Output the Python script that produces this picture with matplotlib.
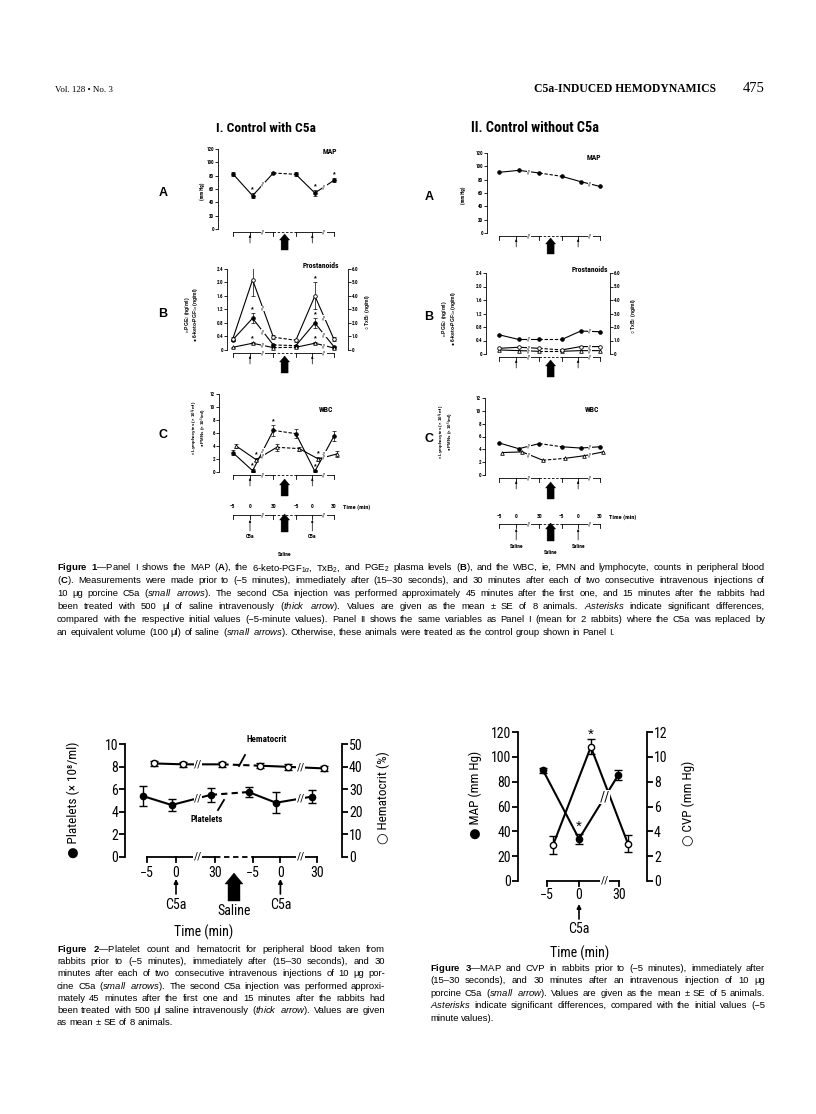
import matplotlib
matplotlib.use("Agg")
import matplotlib.pyplot as plt
import numpy as np
from matplotlib import font_manager
from matplotlib.patches import Polygon
from matplotlib.lines import Line2D

W, H = 816, 1114

SANS = "Liberation Sans"
SERIF = "Liberation Serif"


def find_condensed():
    fonts = font_manager.fontManager.ttflist
    for name in ("Liberation Sans Narrow", "Roboto Condensed", "Open Sans Condensed",
                 "Noto Sans Condensed", "DejaVu Sans Condensed", "Arial Narrow"):
        if any(f.name == name for f in fonts):
            return dict(fontfamily=[name, "DejaVu Sans"]), True
    for name in ("DejaVu Sans", "Noto Sans", "Open Sans", "Roboto"):
        for f in fonts:
            if f.name == name and str(f.stretch) in ("condensed", "semi-condensed",
                                                     "extra-condensed"):
                return dict(fontfamily=[name, "DejaVu Sans"], fontstretch=str(f.stretch)), True
    return dict(fontfamily=[SANS, "DejaVu Sans"]), False


NK, HAVE_NARROW = find_condensed()
SC = 1.0 if HAVE_NARROW else 0.9      # shrink a little when no condensed face exists

plt.rcParams["font.family"] = [SANS, "DejaVu Sans"]
plt.rcParams["mathtext.fontset"] = "custom"
plt.rcParams["mathtext.rm"] = SANS
plt.rcParams["mathtext.it"] = SANS + ":italic"
plt.rcParams["mathtext.bf"] = SANS + ":bold"

# ---------------- data ----------------
TIME_LABELS = ["\u22125", "0", "30", "\u22125", "0", "30"]

# Figure 1, Panel I: control with C5a (mean +- SE, n = 8)
I_MAP = [83, 50, 84, 82, 54, 73]
I_MAP_SE = [3, 4, 2, 3, 4, 3]
I_MAP_SIG = [0, 1, 0, 0, 1, 1]

I_TXB2 = [0.8, 5.2, 0.95, 0.72, 4.0, 0.8]          # ng/ml, right axis
I_TXB2_SE = [0.15, 1.2, 0.15, 0.12, 1.0, 0.15]
I_TXB2_SIG = [0, 1, 0, 0, 1, 0]
I_KETO = [0.3, 0.94, 0.15, 0.13, 0.8, 0.1]          # ng/ml, left axis
I_KETO_SE = [0.04, 0.15, 0.03, 0.03, 0.15, 0.03]
I_KETO_SIG = [0, 1, 0, 0, 1, 0]
I_PGE2 = [0.08, 0.2, 0.07, 0.08, 0.2, 0.06]
I_PGE2_SE = [0.02, 0.03, 0.02, 0.02, 0.03, 0.02]
I_PGE2_SIG = [0, 1, 0, 0, 1, 0]

I_PMN = [3.0, 0.2, 6.4, 5.9, 0.1, 5.5]
I_PMN_SE = [0.4, 0.2, 0.8, 0.7, 0.2, 0.8]
I_PMN_SIG = [0, 1, 1, 0, 1, 0]
I_LYM = [4.0, 1.9, 3.8, 3.6, 2.0, 2.8]
I_LYM_SE = [0.3, 0.2, 0.5, 0.3, 0.3, 0.5]
I_LYM_SIG = [0, 1, 0, 0, 1, 0]

# Figure 1, Panel II: control without C5a (mean of 2 rabbits)
II_MAP = [91, 94, 90, 85, 77, 70]
II_KETO = [0.57, 0.43, 0.43, 0.43, 0.68, 0.66]
II_TXB2 = [0.42, 0.5, 0.42, 0.3, 0.55, 0.55]
II_PGE2 = [0.12, 0.1, 0.08, 0.08, 0.1, 0.1]
II_PMN = [5.0, 4.1, 4.9, 4.4, 4.2, 4.4]
II_LYM = [3.5, 3.6, 2.3, 2.6, 3.0, 3.6]

# Figure 2
PLATELETS = [5.4, 4.6, 5.5, 5.75, 4.8, 5.35]
PLATELETS_SE = [0.9, 0.55, 0.6, 0.45, 0.95, 0.6]
HEMATOCRIT = [41.4, 41.0, 41.0, 40.4, 39.9, 39.2]
HEMATOCRIT_SE = [1.2, 1.2, 1.2, 1.2, 1.2, 1.2]

# Figure 3
F3_TIME_LABELS = ["\u22125", "0", "30"]
F3_MAP = [89, 34, 85]
F3_MAP_SE = [2, 4, 4]
F3_CVP = [2.9, 10.8, 3.0]
F3_CVP_SE = [0.7, 0.6, 0.7]
F3_SIG = [0, 1, 0]

# ---------------- layout ----------------
POS = np.array([0, 1, 2.35, 3.65, 4.6, 5.85])     # time slots on the broken axis
BRK = [1.75, 5.3]
SHIFT = np.array([0, 0.15, 0, 0, 0.15, 0])
POS3 = np.array([0, 1, 2.25])
BRK3 = 1.8

SMALL = dict(lw=0.8, ms=2.6, mew=0.6, cap=1.2, elw=0.5, brk=4, star=5, dash=(3, 1.6))
BIG = dict(lw=1.5, ms=4.5, mew=1.0, cap=3, elw=1.0, brk=8, star=11, dash=(3, 2))

fig = plt.figure(figsize=(W / 100, H / 100), dpi=100)


def ftext(x, y, s, **kw):
    return fig.text(x / W, 1 - y / H, s, **kw)


def fline(xs, ys, **kw):
    fig.add_artist(Line2D([x / W for x in xs], [1 - y / H for y in ys],
                          transform=fig.transFigure, color="k", **kw))


def px_axes(l, t, r, b, origin, unit, ylim):
    ax = fig.add_axes([l / W, 1 - b / H, (r - l) / W, (b - t) / H])
    ax.set_xlim((l - origin) / unit, (r - origin) / unit)
    ax.set_ylim(*ylim)
    ax.box_px = (l, t, r, b)
    ax.unit = unit
    ax.patch.set_visible(False)
    for s in ("top", "right", "bottom"):
        ax.spines[s].set_visible(False)
    ax.set_xticks([])
    return ax


def twin(ax, ylim):
    a2 = ax.twinx()
    a2.set_ylim(*ylim)
    for s in ("top", "left", "bottom"):
        a2.spines[s].set_visible(False)
    a2.patch.set_visible(False)
    a2.box_px = ax.box_px
    a2.unit = ax.unit
    return a2


def ty(ax, py):
    l, t, r, b = ax.box_px
    return (b - py) / (b - t)


def style_y(ax, ticks, labels, fs, lw, length, weight="bold"):
    ax.set_yticks(ticks)
    ax.set_yticklabels(labels)
    ax.tick_params(axis="y", direction="out", length=length, width=lw, labelsize=fs, pad=1)
    for lab in ax.get_yticklabels():
        lab.set_fontfamily(NK["fontfamily"])
        if "fontstretch" in NK:
            lab.set_fontstretch(NK["fontstretch"])
        lab.set_fontweight(weight)
    for s in ax.spines.values():
        s.set_linewidth(lw)


def timeline(ax, py, lw, tick_px, brk_fs, pos=POS, brk=BRK, dashed=True):
    tr = ax.get_xaxis_transform()
    y0, y1 = ty(ax, py), ty(ax, py + tick_px)
    kw = dict(color="k", lw=lw, transform=tr, clip_on=False)
    if dashed:
        ax.plot([pos[0], pos[2]], [y0, y0], **kw)
        ax.plot([pos[2], pos[3]], [y0, y0], linestyle=(0, (3, 2)), **kw)
        ax.plot([pos[3], pos[5]], [y0, y0], **kw)
    else:
        ax.plot([pos[0], pos[-1]], [y0, y0], **kw)
    for p in pos:
        ax.plot([p, p], [y0, y1], **kw)
    for b in brk:
        ax.text(b, y0, "//", transform=tr, ha="center", va="center", fontsize=brk_fs,
                bbox=dict(fc="white", ec="none", pad=0.3), **NK)


def small_arrow(ax, x, py_tip, py_tail, lw, scale):
    tr = ax.get_xaxis_transform()
    ax.annotate("", xy=(x, ty(ax, py_tip)), xytext=(x, ty(ax, py_tail)),
                xycoords=tr, textcoords=tr, annotation_clip=False,
                arrowprops=dict(arrowstyle="-|>", lw=lw, color="k", mutation_scale=scale,
                                shrinkA=0, shrinkB=0))


def thick_arrow(ax, x, py_tip, py_base, hw_px, sw_px, hl_px):
    tr = ax.get_xaxis_transform()
    hw, sw = hw_px / ax.unit, sw_px / ax.unit
    yt, yh, yb = ty(ax, py_tip), ty(ax, py_tip + hl_px), ty(ax, py_base)
    verts = [(x, yt), (x + hw, yh), (x + sw, yh), (x + sw, yb),
             (x - sw, yb), (x - sw, yh), (x - hw, yh)]
    ax.add_patch(Polygon(verts, closed=True, transform=tr, fc="k", ec="k", lw=0.3,
                         clip_on=False))


def series(ax, x, y, marker, filled, st, se=None, sig=None, breaks=BRK):
    x = np.asarray(x, float)
    y = np.asarray(y, float)
    kw = dict(color="k", lw=st["lw"], solid_capstyle="butt", zorder=2)
    ax.plot(x[:3], y[:3], "-", **kw)
    ax.plot(x[2:4], y[2:4], linestyle=(0, st["dash"]), **kw)
    ax.plot(x[3:], y[3:], "-", **kw)
    if se is not None:
        ax.errorbar(x, y, yerr=se, fmt="none", ecolor="k", elinewidth=st["elw"],
                    capsize=st["cap"], capthick=st["elw"], zorder=3)
    ax.plot(x, y, linestyle="none", marker=marker, ms=st["ms"], mew=st["mew"],
            mfc="k" if filled else "white", mec="k", zorder=4)
    for b in breaks:
        ax.text(b, np.interp(b, x, y), "//", ha="center", va="center", fontsize=st["brk"],
                zorder=5, bbox=dict(fc="white", ec="none", pad=0.1), **NK)
    if sig is not None:
        top = y + (np.asarray(se) if se is not None else 0)
        for xi, yi, s in zip(x, top, sig):
            if s:
                ax.annotate("*", (xi, yi), xytext=(0, 0), textcoords="offset points",
                            ha="center", va="bottom", fontsize=st["star"], fontweight="bold")


# ---------------- header ----------------
ftext(55, 92, "Vol. 128 \u2022 No. 3", fontsize=6.5, fontfamily=SERIF, va="baseline")
ftext(716, 92, "C5a-INDUCED HEMODYNAMICS", fontsize=8.4, fontfamily=SERIF, fontweight="bold",
      ha="right", va="baseline")
ftext(765, 92, "475", fontsize=10.5, fontfamily=SERIF, ha="right", va="baseline")

ftext(266, 128, "I. Control with C5a", fontsize=10.5 * SC * 0.92, fontweight="bold",
      ha="center", va="center", **NK)
ftext(535, 128, "II. Control without C5a", fontsize=10.5 * SC * 0.98, fontweight="bold",
      ha="center", va="center", **NK)

# ---------------- Figure 1 panels ----------------
FS1 = 3.6


def fig1_column(origin, unit, boxes, data, letters_x, label_x, title_pos, with_se,
                bottom, arrow_label):
    (boxA, boxB, boxC) = boxes
    xs = POS + SHIFT
    lab_kw = dict(fontsize=FS1, fontweight="bold", rotation=90, ha="center", va="center",
                  fontfamily=[SANS, "DejaVu Sans"])

    # A: MAP
    l, t, r, b = boxA
    axA = px_axes(l, t, r, b, origin, unit, (0, 120))
    style_y(axA, range(0, 121, 20), [str(v) for v in range(0, 121, 20)], FS1, 0.6, 2)
    if with_se:
        series(axA, xs, data["map"], "o", True, SMALL, I_MAP_SE, I_MAP_SIG)
    else:
        series(axA, xs, data["map"], "o", True, SMALL)
    timeline(axA, b + 3, 0.6, 4, 4)
    for i in (1, 4):
        small_arrow(axA, POS[i], b + 6, b + 14, 0.5, 3)
    thick_arrow(axA, (POS[2] + POS[3]) / 2, b + 5, b + 21, 5, 3.5, 6)
    ftext(*title_pos["map"], "MAP", fontsize=5.5, fontweight="bold",
          ha="center", va="center", **NK)
    ftext(letters_x, (t + b) / 2 + 4, "A", fontsize=9, fontweight="bold", ha="center", va="center")
    ftext(label_x["a"], (t + b) / 2 + 2, "(mm Hg)", **dict(lab_kw, **NK))

    # B: prostanoids
    l, t, r, b = boxB
    axB = px_axes(l, t, r, b, origin, unit, (0, 2.4))
    style_y(axB, np.arange(0, 2.41, 0.4), ["0", "0.4", "0.8", "1.2", "1.6", "2.0", "2.4"],
            FS1, 0.6, 2)
    axB2 = twin(axB, (0, 6.0))
    style_y(axB2, np.arange(0, 6.01, 1.0), ["0", "1.0", "2.0", "3.0", "4.0", "5.0", "6.0"],
            FS1, 0.6, 2)
    if with_se:
        series(axB2, xs, data["txb2"], "o", False, SMALL, I_TXB2_SE, I_TXB2_SIG)
        series(axB, xs, data["keto"], "o", True, SMALL, I_KETO_SE, I_KETO_SIG)
        series(axB, xs, data["pge2"], "^", False, SMALL, I_PGE2_SE, I_PGE2_SIG)
    else:
        series(axB2, xs, data["txb2"], "o", False, SMALL)
        series(axB, xs, data["keto"], "o", True, SMALL)
        series(axB, xs, data["pge2"], "^", False, SMALL)
    timeline(axB, b + 3, 0.6, 4, 4)
    for i in (1, 4):
        small_arrow(axB, POS[i], b + 6, b + 14, 0.5, 3)
    thick_arrow(axB, (POS[2] + POS[3]) / 2, b + 6, b + 23, 5, 3.5, 6)
    ftext(*title_pos["pro"], "Prostanoids", fontsize=5.5, fontweight="bold",
          ha="center", va="center", **NK)
    ftext(letters_x, (t + b) / 2 + 4, "B", fontsize=9, fontweight="bold", ha="center", va="center")
    ftext(label_x["b1"], (t + b) / 2 + 5, "\u25b3 PGE$_2$ (ng/ml)", **lab_kw)
    ftext(label_x["b2"], (t + b) / 2 + 5, "\u25cf 6-keto-PGF$_{1\\alpha}$ (ng/ml)", **lab_kw)
    ftext(label_x["b3"], (t + b) / 2 + 3, "\u25cb TxB$_2$ (ng/ml)", **lab_kw)

    # C: WBC
    l, t, r, b = boxC
    axC = px_axes(l, t, r, b, origin, unit, (0, 12))
    style_y(axC, range(0, 13, 2), [str(v) for v in range(0, 13, 2)], FS1, 0.6, 2)
    if with_se:
        series(axC, xs, data["pmn"], "o", True, SMALL, I_PMN_SE, I_PMN_SIG)
        series(axC, xs + 0.2, data["lym"], "^", False, SMALL, I_LYM_SE, I_LYM_SIG)
    else:
        series(axC, xs, data["pmn"], "o", True, SMALL)
        series(axC, xs + 0.2, data["lym"], "^", False, SMALL)
    timeline(axC, b + 3, 0.6, 4, 4)
    for i in (1, 4):
        small_arrow(axC, POS[i], b + 6, b + 14, 0.5, 3)
    thick_arrow(axC, (POS[2] + POS[3]) / 2, b + 7, b + 24, 5, 3.5, 6)
    ftext(*title_pos["wbc"], "WBC", fontsize=5.5, fontweight="bold",
          ha="center", va="center", **NK)
    ftext(letters_x, (t + b) / 2 + 2, "C", fontsize=9, fontweight="bold", ha="center", va="center")
    ftext(label_x["c1"], (t + b) / 2 - 5, "\u25b3 Lymphocytes (\u00d7 10$^6$/ml)",
          **dict(lab_kw, fontsize=3.2))
    ftext(label_x["c2"], (t + b) / 2 - 5, "\u25cf PMNs (\u00d7 10$^6$/ml)",
          **dict(lab_kw, fontsize=3.2))

    # bottom time key
    ylab, yline, ysal = bottom
    tr = axC.get_xaxis_transform()
    for p, lab in zip(POS, TIME_LABELS):
        axC.text(p, ty(axC, ylab), lab, transform=tr, ha="center", va="center", fontsize=4,
                 fontweight="bold", **NK)
    timeline(axC, yline, 0.6, 4, 4)
    for i in (1, 4):
        small_arrow(axC, POS[i], yline + 5, yline + 16, 0.5, 3)
        axC.text(POS[i], ty(axC, yline + 22), arrow_label, transform=tr, ha="center",
                 va="center", fontsize=4, fontweight="bold", **NK)
    thick_arrow(axC, (POS[2] + POS[3]) / 2, yline - 1, yline + 17, 5, 3.5, 6)
    axC.text((POS[2] + POS[3]) / 2, ty(axC, ysal), "Saline", transform=tr, ha="center",
             va="center", fontsize=4, fontweight="bold", **NK)
    axC.text(POS[5] + 0.55, ty(axC, ylab), "Time (min)", transform=tr, ha="left",
             va="center", fontsize=4.5, fontweight="bold", **NK)


fig1_column(232.7, 17.3,
            [(218, 149, 345, 229), (227, 269, 348, 350), (219, 394, 345, 472)],
            dict(map=I_MAP, txb2=I_TXB2, keto=I_KETO, pge2=I_PGE2, pmn=I_PMN, lym=I_LYM),
            163, dict(a=202, b1=187, b2=196, b3=368, c1=195, c2=204),
            dict(map=(330, 152), pro=(321, 266), wbc=(326, 410)),
            True, (507, 515, 555), "C5a")

fig1_column(499, 17.2,
            [(487, 153, 612, 233), (486, 273, 610, 354), (485, 398, 612, 475)],
            dict(map=II_MAP, txb2=II_TXB2, keto=II_KETO, pge2=II_PGE2, pmn=II_PMN, lym=II_LYM),
            429, dict(a=463, b1=445, b2=454, b3=634, c1=442, c2=451),
            dict(map=(594, 157), pro=(590, 270), wbc=(592, 410)),
            False, (517, 524, 552), "Saline")

# ---------------- captions ----------------
renderer = fig.canvas.get_renderer()


def caption(lines, x0, x1, y0, dy, fs):
    for i, line in enumerate(lines):
        words = line.split(" ")
        ts = [ftext(0, y0 + i * dy, w, fontsize=fs, va="baseline", fontfamily=SANS)
              for w in words]
        widths = [tt.get_window_extent(renderer).width for tt in ts]
        if i < len(lines) - 1 and len(words) > 1:
            gap = (x1 - x0 - sum(widths)) / (len(words) - 1)
        else:
            gap = fs * 0.28 * 100 / 72
        x = x0
        for tt, w in zip(ts, widths):
            tt.set_x(x / W)
            x += w + gap


CAP1 = [
    r"$\mathbf{Figure}$ $\mathbf{1}$—Panel I shows the MAP ($\mathbf{A}$), the 6-keto-PGF$_{1\alpha}$, TxB$_2$, and PGE$_2$ plasma levels ($\mathbf{B}$), and the WBC, ie, PMN and lymphocyte, counts in peripheral blood",
    r"($\mathbf{C}$). Measurements were made prior to (−5 minutes), immediately after (15–30 seconds), and 30 minutes after each of two consecutive intravenous injections of",
    r"10 μg porcine C5a ($\mathit{small}$ $\mathit{arrows}$). The second C5a injection was performed approximately 45 minutes after the first one, and 15 minutes after the rabbits had",
    r"been treated with 500 μl of saline intravenously ($\mathit{thick}$ $\mathit{arrow}$). Values are given as the mean ± SE of 8 animals. $\mathit{Asterisks}$ indicate significant differences,",
    r"compared with the respective initial values (−5-minute values). Panel II shows the same variables as Panel I (mean for 2 rabbits) where the C5a was replaced by",
    r"an equivalent volume (100 μl) of saline ($\mathit{small}$ $\mathit{arrows}$). Otherwise, these animals were treated as the control group shown in Panel I.",
]
CAP2 = [
    r"$\mathbf{Figure}$ $\mathbf{2}$—Platelet count and hematocrit for peripheral blood taken from",
    r"rabbits prior to (−5 minutes), immediately after (15–30 seconds), and 30",
    r"minutes after each of two consecutive intravenous injections of 10 μg por-",
    r"cine C5a ($\mathit{small}$ $\mathit{arrows}$). The second C5a injection was performed approxi-",
    r"mately 45 minutes after the first one and 15 minutes after the rabbits had",
    r"been treated with 500 μl saline intravenously ($\mathit{thick}$ $\mathit{arrow}$). Values are given",
    r"as mean ± SE of 8 animals.",
]
CAP3 = [
    r"$\mathbf{Figure}$ $\mathbf{3}$—MAP and CVP in rabbits prior to (−5 minutes), immediately after",
    r"(15–30 seconds), and 30 minutes after an intravenous injection of 10 μg",
    r"porcine C5a ($\mathit{small}$ $\mathit{arrow}$). Values are given as the mean ± SE of 5 animals.",
    r"$\mathit{Asterisks}$ indicate significant differences, compared with the initial values (−5",
    r"minute values).",
]
caption(CAP1, 57, 765, 570, 13, 6.8)
caption(CAP2, 57, 385, 952, 12.2, 6.8)
caption(CAP3, 430, 765, 971, 12.4, 6.8)

# ---------------- Figure 2 ----------------
FS2 = 10 * SC
ax2 = px_axes(125, 744, 342, 857, 147, 29, (0, 10))
style_y(ax2, range(0, 11, 2), [str(v) for v in range(0, 11, 2)], FS2, 1.3, 4, weight="normal")
ax2r = twin(ax2, (0, 50))
style_y(ax2r, range(0, 51, 10), [str(v) for v in range(0, 51, 10)], FS2, 1.3, 4, weight="normal")
series(ax2, POS - 0.15, PLATELETS, "o", True, BIG, PLATELETS_SE)
series(ax2r, POS + 0.25, HEMATOCRIT, "o", False, BIG, HEMATOCRIT_SE)
timeline(ax2, 857, 1.3, 5, 8)
tr2 = ax2.get_xaxis_transform()
for p, lab in zip(POS, TIME_LABELS):
    ax2.text(p, ty(ax2, 873), lab, transform=tr2, ha="center", va="center", fontsize=FS2, **NK)
for i in (1, 4):
    small_arrow(ax2, POS[i], 879, 894, 1.2, 6)
    ax2.text(POS[i], ty(ax2, 905), "C5a", transform=tr2, ha="center", va="center",
             fontsize=FS2, **NK)
thick_arrow(ax2, (POS[2] + POS[3]) / 2, 873, 901, 9, 6, 11)
ax2.text((POS[2] + POS[3]) / 2, ty(ax2, 911), "Saline", transform=tr2, ha="center",
         va="center", fontsize=FS2, **NK)
ftext(204, 932, "Time (min)", fontsize=FS2, ha="center", va="center", **NK)
ftext(73, 800, "\u25cf Platelets (\u00d7 10\u2078/ml)", fontsize=9.5 * SC,
      rotation=90, ha="center", va="center", **NK)
ftext(383, 798, "\u25cb Hematocrit (%)", fontsize=9.5 * SC,
      rotation=90, ha="center", va="center", **NK)
ftext(267, 740, "Hematocrit", fontsize=6.5 * SC, fontweight="bold",
      ha="center", va="center", **NK)
fline([245, 239], [755, 766], lw=1.3)
ftext(207, 820, "Platelets", fontsize=6.5 * SC, fontweight="bold",
      ha="center", va="center", **NK)
fline([224, 218], [800, 810], lw=1.3)

# ---------------- Figure 3 ----------------
ax3 = px_axes(518, 732, 647, 881, 547, 32, (0, 120))
style_y(ax3, range(0, 121, 20), [str(v) for v in range(0, 121, 20)], FS2, 1.3, 4, weight="normal")
ax3r = twin(ax3, (0, 12))
style_y(ax3r, range(0, 13, 2), [str(v) for v in range(0, 13, 2)], FS2, 1.3, 4, weight="normal")

x_map = POS3 + np.array([-0.12, 0.0, -0.03])
x_cvp = POS3 + np.array([0.19, 0.37, 0.28])
ax3.plot(x_map, F3_MAP, "-", color="k", lw=BIG["lw"], zorder=2)
ax3.errorbar(x_map, F3_MAP, yerr=F3_MAP_SE, fmt="none", ecolor="k", elinewidth=1.0,
             capsize=3, capthick=1.0, zorder=3)
ax3.plot(x_map, F3_MAP, linestyle="none", marker="o", ms=BIG["ms"], mfc="k", mec="k", zorder=4)
ax3r.plot(x_cvp, F3_CVP, "-", color="k", lw=BIG["lw"], zorder=2)
ax3r.errorbar(x_cvp, F3_CVP, yerr=F3_CVP_SE, fmt="none", ecolor="k", elinewidth=1.0,
              capsize=3, capthick=1.0, zorder=3)
ax3r.plot(x_cvp, F3_CVP, linestyle="none", marker="o", ms=BIG["ms"], mfc="white", mec="k",
          mew=1.0, zorder=4)
ax3r.text(BRK3, np.interp(BRK3, x_map, F3_MAP) / 10, "//", ha="center", va="center",
          fontsize=10, zorder=5, bbox=dict(fc="white", ec="none", pad=0.1), **NK)
for xi, yi, ei, s in zip(x_map, F3_MAP, F3_MAP_SE, F3_SIG):
    if s:
        ax3.annotate("*", (xi, yi + ei), xytext=(0, 0), textcoords="offset points",
                     ha="center", va="bottom", fontsize=11)
for xi, yi, ei, s in zip(x_cvp, F3_CVP, F3_CVP_SE, F3_SIG):
    if s:
        ax3r.annotate("*", (xi, yi + ei), xytext=(0, -2), textcoords="offset points",
                      ha="center", va="bottom", fontsize=11)
timeline(ax3, 881, 1.3, 5, 8, pos=POS3, brk=[BRK3], dashed=False)
tr3 = ax3.get_xaxis_transform()
for p, lab in zip(POS3, F3_TIME_LABELS):
    ax3.text(p, ty(ax3, 895), lab, transform=tr3, ha="center", va="center", fontsize=FS2, **NK)
small_arrow(ax3, POS3[1], 904, 919, 1.2, 6)
ax3.text(POS3[1], ty(ax3, 929), "C5a", transform=tr3, ha="center", va="center",
         fontsize=FS2, **NK)
ftext(580, 953, "Time (min)", fontsize=FS2, ha="center", va="center", **NK)
ftext(475, 795, "\u25cf MAP (mm Hg)", fontsize=9.5 * SC,
      rotation=90, ha="center", va="center", **NK)
ftext(688, 803, "\u25cb CVP (mm Hg)", fontsize=9.5 * SC,
      rotation=90, ha="center", va="center", **NK)

fig.savefig("out.png", dpi=100)
